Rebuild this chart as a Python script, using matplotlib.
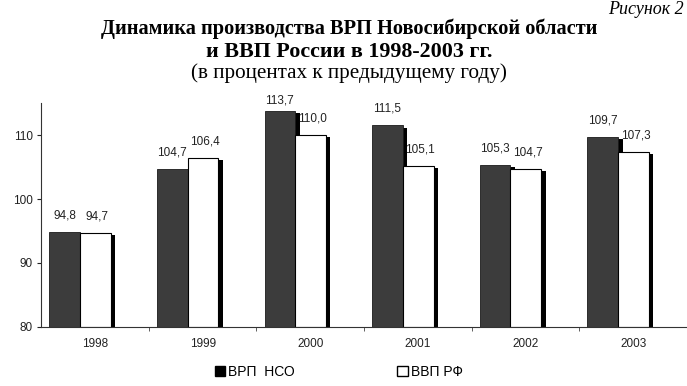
import matplotlib.pyplot as plt
import matplotlib.transforms as mtransforms
from matplotlib.patches import Patch
import numpy as np

years = ['1998', '1999', '2000', '2001', '2002', '2003']
vrp_nso = [94.8, 104.7, 113.7, 111.5, 105.3, 109.7]
vvp_rf = [94.7, 106.4, 110.0, 105.1, 104.7, 107.3]
labels_nso = ['94,8', '104,7', '113,7', '111,5', '105,3', '109,7']
labels_rf = ['94,7', '106,4', '110,0', '105,1', '104,7', '107,3']

plt.rcParams['font.family'] = ['Liberation Sans', 'DejaVu Sans']

fig = plt.figure(figsize=(6.87, 3.86), dpi=100)
ax = fig.add_axes([0.06, 0.153, 0.94, 0.58])

x = np.arange(len(years))
w = 0.285
base = 80
x_nso = x - 0.14 - w / 2
x_rf = x - 0.14 + w / 2

# shadow (depth) offset
shadow = ax.transData + mtransforms.ScaledTranslation(3.2 / 72, -1.5 / 72, fig.dpi_scale_trans)
ax.bar(x_nso, np.array(vrp_nso) - base, w, bottom=base, color='black', transform=shadow, zorder=1)
ax.bar(x_rf, np.array(vvp_rf) - base, w, bottom=base, color='black', transform=shadow, zorder=1)

ax.bar(x_nso, np.array(vrp_nso) - base, w, bottom=base, color='#3c3c3c',
       edgecolor='#1a1a1a', linewidth=0.6, zorder=2)
ax.bar(x_rf, np.array(vvp_rf) - base, w, bottom=base, color='white',
       edgecolor='black', linewidth=0.8, zorder=2)

for i in range(len(years)):
    ax.text(x_nso[i], min(vrp_nso[i] + 1.7, 114.4), labels_nso[i], ha='center', va='bottom',
            fontsize=8.5, color='#222222', clip_on=False)
    ax.text(x_rf[i] + 0.02, min(vvp_rf[i] + 1.7, 114.4), labels_rf[i], ha='center', va='bottom',
            fontsize=8.5, color='#222222', clip_on=False)

ax.set_xlim(-0.5, 5.5)
ax.set_ylim(80, 115)
ax.set_yticks([80, 90, 100, 110])
ax.set_xticks(x)
ax.set_xticklabels(years)
ax.set_xticks(np.arange(0.5, 5.5, 1), minor=True)
ax.tick_params(axis='x', which='major', length=0, pad=8, labelsize=8.5, colors='#222222')
ax.tick_params(axis='x', which='minor', length=3, direction='out', color='#444444')
ax.tick_params(axis='y', length=3, direction='out', labelsize=8.5, colors='#222222', pad=3)
for s in ['top', 'right']:
    ax.spines[s].set_visible(False)
ax.spines['left'].set_color('#333333')
ax.spines['bottom'].set_color('#333333')
ax.spines['left'].set_linewidth(0.8)
ax.spines['bottom'].set_linewidth(0.8)

serif = ['Liberation Serif', 'DejaVu Serif']
fig.text(0.508, 0.925, 'Динамика производства ВРП Новосибирской области', ha='center', va='center',
         fontsize=14.7, fontweight='bold', family=serif)
fig.text(0.508, 0.866, 'и ВВП России в 1998-2003 гг.', ha='center', va='center',
         fontsize=15.8, fontweight='bold', family=serif)
fig.text(0.508, 0.81, '(в процентах к предыдущему году)', ha='center', va='center',
         fontsize=15.2, family=serif)
fig.text(0.995, 0.998, 'Рисунок 2', ha='right', va='top', fontsize=13, style='italic',
         family=serif)

handles = [Patch(facecolor='black', edgecolor='black', label='ВРП  НСО'),
           Patch(facecolor='white', edgecolor='black', label='ВВП РФ')]
fig.legend(handles=handles, loc='center', bbox_to_anchor=(0.493, 0.036), ncol=2, frameon=False,
           fontsize=10, handlelength=0.75, handleheight=0.75, handletextpad=0.2, columnspacing=7.4)

fig.savefig('out.png', dpi=100)
